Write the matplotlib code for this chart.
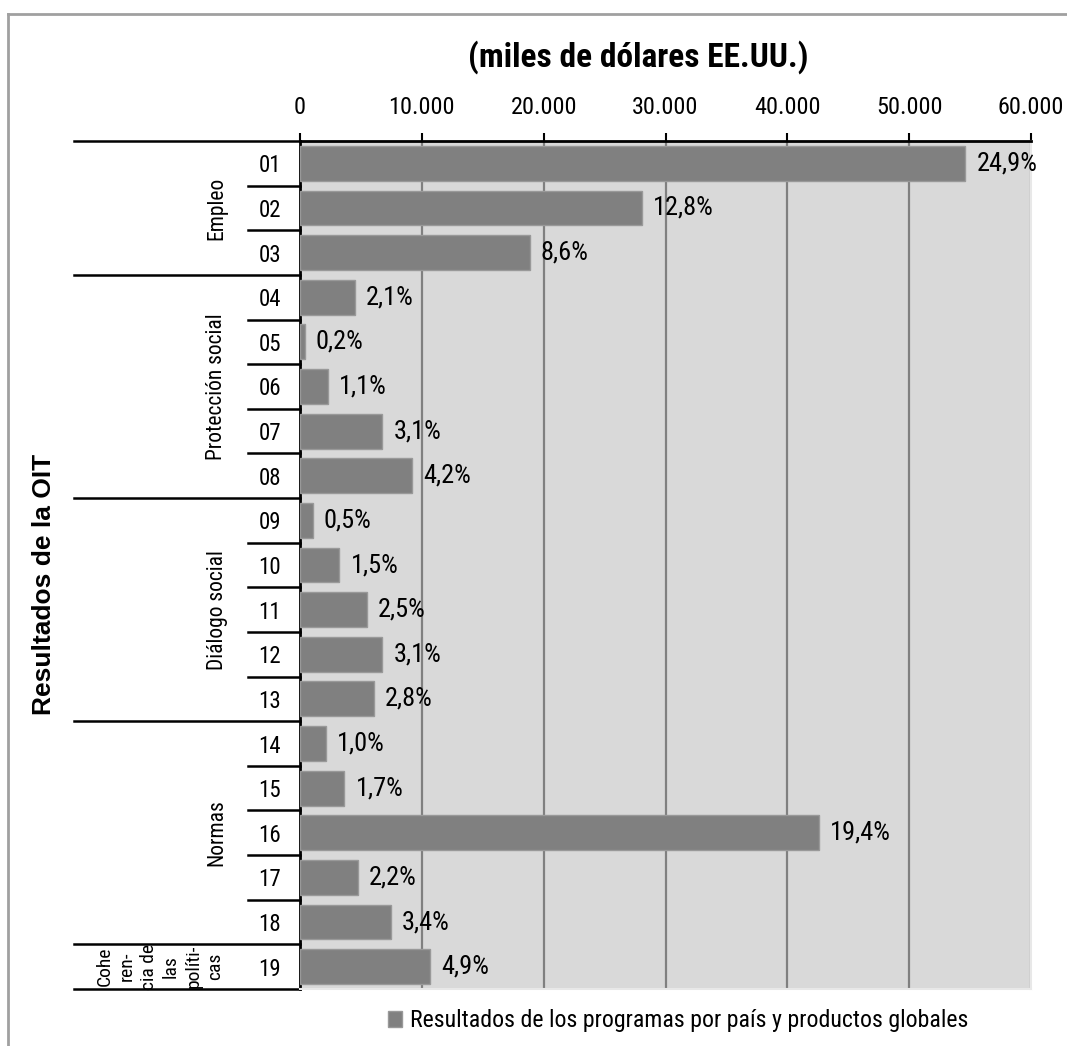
import matplotlib
matplotlib.use("Agg")
import matplotlib.pyplot as plt
from matplotlib.lines import Line2D
import matplotlib.transforms as mtransforms

# ---------------- data ----------------
categories = ["01", "02", "03", "04", "05", "06", "07", "08", "09", "10",
              "11", "12", "13", "14", "15", "16", "17", "18", "19"]
values = [54600, 28070, 18860, 4500, 400, 2300, 6750, 9180, 1050, 3230,
          5470, 6750, 6050, 2100, 3650, 42560, 4760, 7450, 10700]
pct_labels = ["24,9%", "12,8%", "8,6%", "2,1%", "0,2%", "1,1%", "3,1%", "4,2%",
              "0,5%", "1,5%", "2,5%", "3,1%", "2,8%", "1,0%", "1,7%", "19,4%",
              "2,2%", "3,4%", "4,9%"]
group_names = ["Empleo", "Protección social", "Diálogo social", "Normas",
               "Cohe\nren-\ncia de\nlas\npolíti-\ncas"]
group_sizes = [3, 5, 5, 5, 1]
x_ticks = [0, 10000, 20000, 30000, 40000, 50000, 60000]
x_ticklabels = ["0", "10.000", "20.000", "30.000", "40.000", "50.000", "60.000"]
title = "(miles de dólares EE.UU.)"
ylabel = "Resultados de la OIT"
legend_label = "Resultados de los programas por país y productos globales"

NARROW = ["Liberation Sans Narrow", "Roboto Condensed", "Liberation Sans", "DejaVu Sans"]
WIDE = ["Liberation Sans", "DejaVu Sans"]
plt.rcParams["font.family"] = NARROW

W, H = 1067, 1046
fig = plt.figure(figsize=(W / 100, H / 100), dpi=100)

# axes placement (pixels)
L, R, T, B = 300, 1031, 141, 989
ax = fig.add_axes([L / W, 1 - B / H, (R - L) / W, (B - T) / H])
ax.set_facecolor("#d9d9d9")

ypos = list(range(len(categories)))
bars = ax.barh(ypos, values, height=0.78, color="#808080", edgecolor="#999999",
               linewidth=1, zorder=3, label=legend_label)
ax.set_xlim(0, 60000)
ax.set_ylim(len(categories) - 0.5, -0.5)

ax.xaxis.tick_top()
ax.set_xticks(x_ticks)
ax.set_xticklabels(x_ticklabels, fontsize=17.5)
ax.tick_params(axis="x", direction="out", length=6, width=1.5, pad=10, color="black")
ax.grid(axis="x", color="#808080", linewidth=1.6, zorder=1)
ax.set_axisbelow(True)

ax.set_yticks(ypos)
ax.set_yticklabels(categories, fontsize=16.5)
ax.tick_params(axis="y", length=0, pad=21.6)
for lbl in ax.get_yticklabels():
    lbl.set_horizontalalignment("center")

for s in ["right", "bottom"]:
    ax.spines[s].set_color("#e8e8e8")
    ax.spines[s].set_linewidth(1.5)
ax.spines["left"].set_color("black")
ax.spines["left"].set_linewidth(2)
ax.spines["top"].set_color("black")
ax.spines["top"].set_linewidth(2)

# value labels
for i, (v, t) in enumerate(zip(values, pct_labels)):
    ax.annotate(t, (v, i), xytext=(8, 0), textcoords="offset points",
                ha="left", va="center", fontsize=19, zorder=5)

# separators on the left (category / group)
trans = mtransforms.blended_transform_factory(fig.transFigure, ax.transData)
bounds = [-0.5]
for g in group_sizes:
    bounds.append(bounds[-1] + g)
group_bounds = set(bounds)
for k in range(len(categories) + 1):
    yb = k - 0.5
    x0 = 74 / W if yb in group_bounds else 248 / W
    ax.add_line(Line2D([x0, L / W], [yb, yb], transform=trans, color="black",
                       linewidth=1.8, clip_on=False))

# group labels
for gi, name in enumerate(group_names):
    yc = (bounds[gi] + bounds[gi + 1]) / 2
    if "\n" in name:
        ax.text(160 / W, yc, name, transform=trans, rotation=90, ha="center",
                va="center", multialignment="center", fontsize=14,
                linespacing=1.3)
    else:
        ax.text(217 / W, yc, name, transform=trans, rotation=90, ha="center",
                va="center", fontsize=15.5)

# title and y label
fig.text(638 / W, 1 - 57 / H, title, ha="center", va="center", fontsize=24,
         fontweight="bold")
fig.text(44 / W, 1 - 584 / H, ylabel, ha="center", va="center", rotation=90,
         fontsize=19, fontweight="bold", family=WIDE)

# legend
fig.legend(handles=[bars], labels=[legend_label], loc="center",
           bbox_to_anchor=(678 / W, 1 - 1021 / H), frameon=False, fontsize=17.2,
           handlelength=0.6, handleheight=0.6, handletextpad=0.3)

# outer frame (top and left visible)
fig.add_artist(Line2D([8 / W, 1.0], [1 - 14 / H, 1 - 14 / H], transform=fig.transFigure,
                      color="#a0a0a0", linewidth=2))
fig.add_artist(Line2D([8 / W, 8 / W], [1 - 14 / H, 0], transform=fig.transFigure,
                      color="#a0a0a0", linewidth=2))

fig.savefig("out.png", dpi=100)
